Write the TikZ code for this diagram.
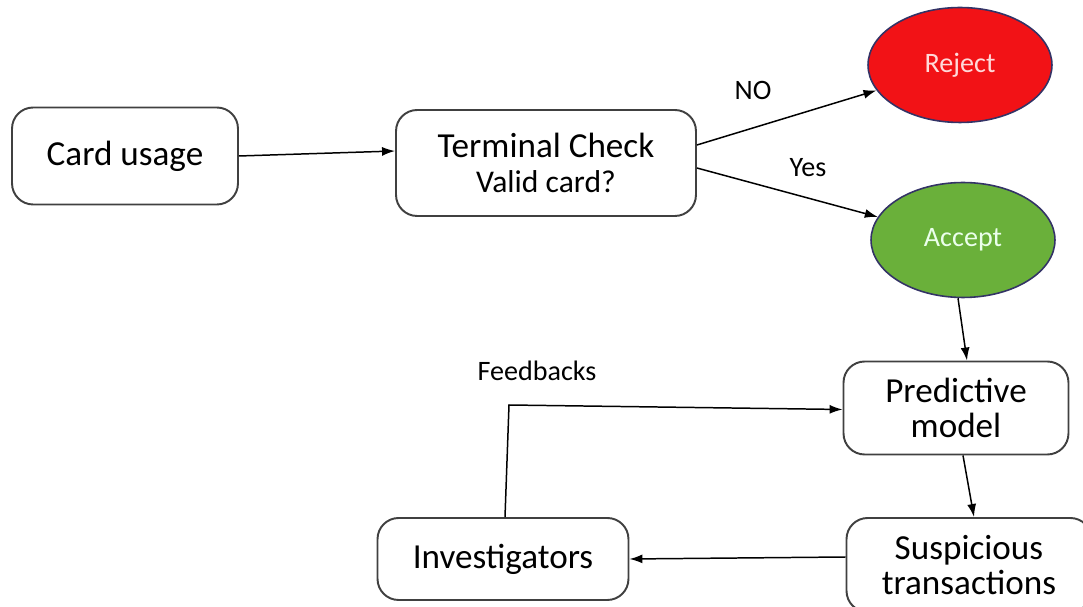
\documentclass[tikz,border=0pt]{standalone}
\usepackage{fontspec}
\setmainfont{Carlito}
\usetikzlibrary{shapes.geometric,arrows.meta}

\definecolor{rejectred}{RGB}{242,18,22}
\definecolor{acceptgreen}{RGB}{106,176,58}
\definecolor{boxline}{RGB}{64,64,64}

\tikzset{
  stage/.style={draw=boxline, line width=1.1pt, rounded corners=12pt, inner sep=0pt, align=center, font=\fontsize{20}{20}\selectfont},
  verdict/.style={ellipse, draw=boxline!80!blue, line width=0.9pt, inner sep=0pt, minimum width=3.68cm, minimum height=2.3cm, font=\fontsize{16}{19}\selectfont},
  flow/.style={-{Latex[length=0.26cm,width=0.18cm]}, line width=0.85pt},
  tag/.style={font=\fontsize{16}{19}\selectfont}
}

\begin{document}
\begin{tikzpicture}[x=0.02cm, y=-0.02cm]

\clip (0,0) rectangle (1083,607);
\useasboundingbox (0,0) rectangle (1083,607);

% boxes
\node [stage, minimum width=4.52cm, minimum height=1.94cm] (card) at (125,156) {Card usage};
\node [stage, minimum width=6cm, minimum height=2.12cm] (term) at (546,163) {Terminal Check\\{\fontsize{18}{19}\selectfont Valid card?}};
\node [stage, minimum width=4.5cm, minimum height=1.86cm] (pred) at (956,408) {Predictive\\model};
\node [stage, minimum width=4.9cm, minimum height=1.88cm] (susp) at (969,565) {Suspicious\\transactions};
\node [stage, minimum width=5.02cm, minimum height=1.64cm] (inv) at (503,559) {Investigators};

% decisions
\node [verdict, fill=rejectred, text=red!15] (reject) at (960,65) {Reject};
\node [verdict, fill=acceptgreen, text=green!8] (accept) at (963,240) {Accept};

% labels
\node [tag] (no) at (753,90) {NO};
\node [tag] (yes) at (808,168) {Yes};
\node [tag] (fb) at (537,371) {Feedbacks};

\coordinate (fbcorner) at (509,405);

% arrows
\draw [flow] (card.east) -- ([yshift=0.24cm]term.west);
\draw [flow] ([yshift=0.36cm]term.east) -- (reject);
\draw [flow] ([yshift=-0.1cm]term.east) -- (accept);
\draw [flow] ([xshift=-0.1cm]accept.south) -- ([xshift=0.22cm]pred.north);
\draw [flow] ([xshift=0.14cm]pred.south) -- ([xshift=0.1cm]susp.north);
\draw [flow] ([yshift=0.16cm]susp.west) -- (inv.east);
\draw [flow] ([xshift=0.04cm]inv.north) -- (fbcorner) -- ([yshift=-0.03cm]pred.west);

\end{tikzpicture}
\end{document}
